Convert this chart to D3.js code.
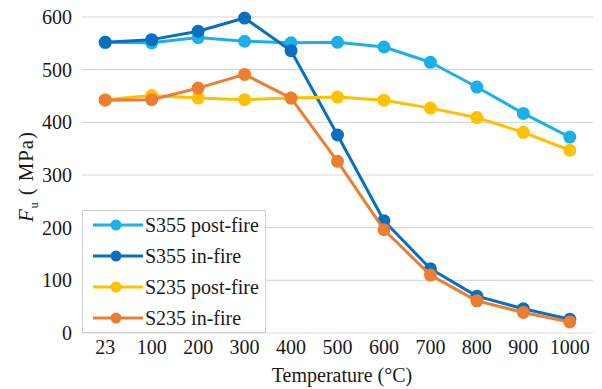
<!DOCTYPE html>
<html>
<head>
<meta charset="utf-8">
<script src="https://cdn.jsdelivr.net/npm/d3@7"></script>
<style>
  html, body { margin: 0; padding: 0; background: #fff; }
  svg { display: block; }
  svg text { font-family: "Liberation Serif", "Times New Roman", serif; fill: #1a1a1a; }
</style>
</head>
<body>
<div id="chart"></div>
<script>
// Temperature categories (°C)
const temperatures = ["23", "100", "200", "300", "400", "500", "600", "700", "800", "900", "1000"];

// Ultimate strength Fu (MPa) for each steel grade / condition
const s355PostFire = [552, 551, 561, 554, 551, 552, 543, 514, 467, 417, 372];
const s355InFire   = [552, 557, 573, 598, 536, 376, 213, 122, 70, 46, 26];
const s235PostFire = [443, 451, 446, 443, 446, 448, 442, 427, 409, 381, 347];
const s235InFire   = [442, 443, 465, 491, 446, 326, 196, 110, 61, 39, 21];

const yTicks = [0, 100, 200, 300, 400, 500, 600];

const seriesNames  = ["S355 post-fire", "S355 in-fire", "S235 post-fire", "S235 in-fire"];
const seriesValues = [s355PostFire, s355InFire, s235PostFire, s235InFire];
const seriesColors = ["#1BB0EA", "#0B6FC0", "#FFC000", "#ED7D31"];

const width = 602, height = 389;
const margin = { top: 17, right: 9, bottom: 56, left: 82 };
const serif = "'Liberation Serif', 'Times New Roman', serif";

const svg = d3.select("#chart").append("svg")
  .attr("width", width).attr("height", height);

const x = d3.scaleBand()
  .domain(temperatures)
  .range([margin.left, width - margin.right]);

const y = d3.scaleLinear()
  .domain([0, 600])
  .range([height - margin.bottom, margin.top]);

// Horizontal gridlines
svg.append("g")
  .selectAll("line")
  .data(yTicks)
  .join("line")
  .attr("x1", margin.left).attr("x2", width - margin.right)
  .attr("y1", d => y(d)).attr("y2", d => y(d))
  .attr("stroke", "#d9d9d9").attr("stroke-width", 1.2);

// Y axis labels
const yAxis = d3.axisLeft(y).tickValues(yTicks).tickSize(0).tickPadding(10);
svg.append("g")
  .attr("transform", `translate(${margin.left},0)`)
  .call(yAxis)
  .attr("font-family", serif)
  .attr("font-size", 20)
  .call(g => g.select(".domain").remove())
  .selectAll("text")
  .attr("fill", "#1a1a1a");

// X axis labels
const xAxis = d3.axisBottom(x).tickSize(0).tickPadding(7);
svg.append("g")
  .attr("transform", `translate(0,${y(0)})`)
  .call(xAxis)
  .attr("font-family", serif)
  .attr("font-size", 20)
  .call(g => g.select(".domain").remove())
  .selectAll("text")
  .attr("fill", "#1a1a1a");

// Axis titles
svg.append("text")
  .attr("x", 342).attr("y", 382)
  .attr("text-anchor", "middle")
  .attr("font-family", serif)
  .attr("font-size", 20)
  .text("Temperature (°C)");

const yTitle = svg.append("text")
  .attr("transform", "translate(33,177) rotate(-90)")
  .attr("text-anchor", "middle")
  .attr("font-family", serif)
  .attr("font-size", 21)
  .attr("textLength", 90)
  .attr("lengthAdjust", "spacing");
yTitle.append("tspan").attr("font-style", "italic").text("F");
yTitle.append("tspan").attr("dy", 5).attr("font-size", 12).text("u");
yTitle.append("tspan").attr("dy", -5).text("\u00a0( MPa)");

// Lines and markers
const line = d3.line()
  .x((d, i) => x(temperatures[i]) + x.bandwidth() / 2)
  .y(d => y(d));

seriesValues.forEach((vals, k) => {
  const g = svg.append("g");
  g.append("path")
    .datum(vals)
    .attr("fill", "none")
    .attr("stroke", seriesColors[k])
    .attr("stroke-width", 3)
    .attr("stroke-linejoin", "round")
    .attr("d", line);
  g.selectAll("circle")
    .data(vals)
    .join("circle")
    .attr("cx", (d, i) => x(temperatures[i]) + x.bandwidth() / 2)
    .attr("cy", d => y(d))
    .attr("r", 6.5)
    .attr("fill", seriesColors[k]);
});

// Legend
const legend = svg.append("g");
legend.append("rect")
  .attr("x", 82.5).attr("y", 210.5)
  .attr("width", 183).attr("height", 122)
  .attr("fill", "#fff")
  .attr("stroke", "#cfcfcf").attr("stroke-width", 1);

seriesNames.forEach((name, k) => {
  const cy = 225 + k * 31;
  legend.append("line")
    .attr("x1", 93).attr("x2", 143)
    .attr("y1", cy).attr("y2", cy)
    .attr("stroke", seriesColors[k]).attr("stroke-width", 3);
  legend.append("circle")
    .attr("cx", 116).attr("cy", cy).attr("r", 5.5)
    .attr("fill", seriesColors[k]);
  legend.append("text")
    .attr("x", 145).attr("y", cy)
    .attr("dy", "0.35em")
    .attr("font-family", serif)
    .attr("font-size", 20)
    .text(name);
});
</script>
</body>
</html>
